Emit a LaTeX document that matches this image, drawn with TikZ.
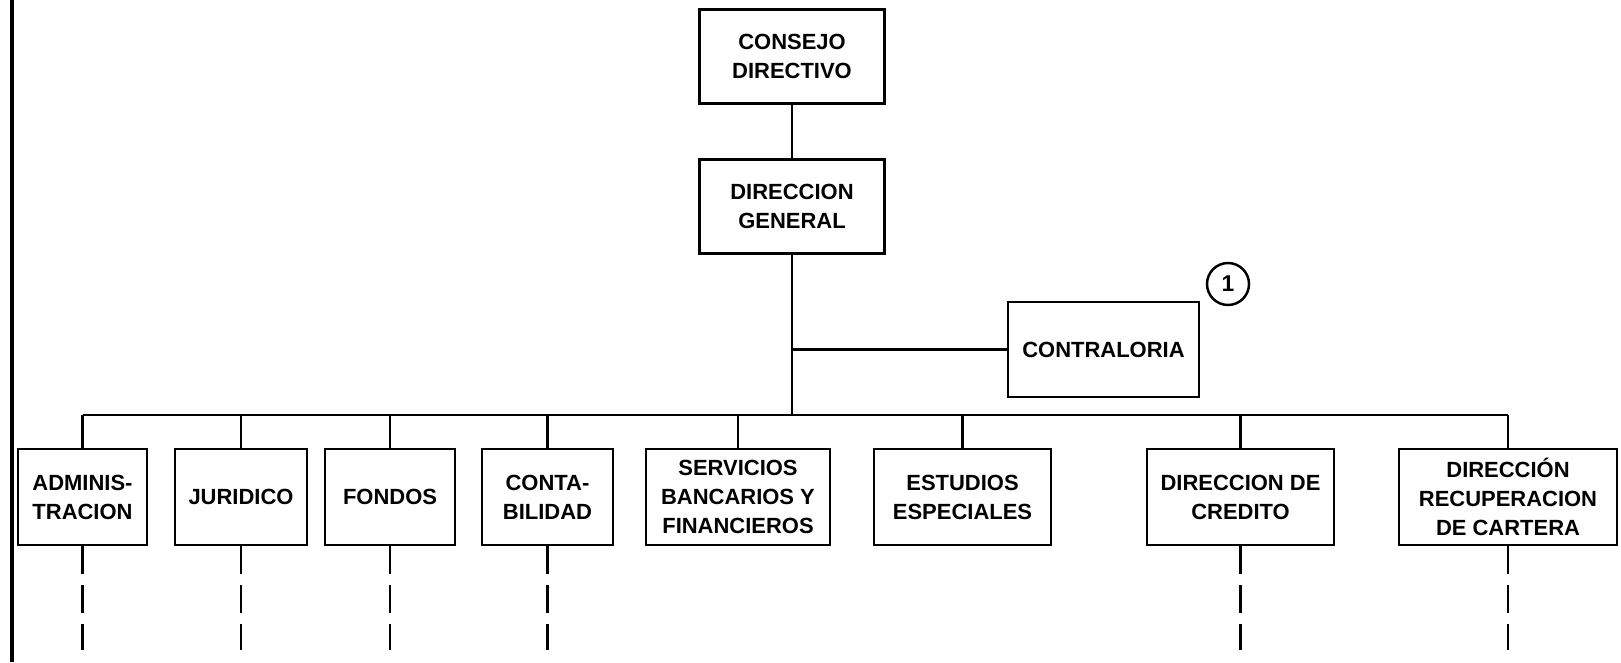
\documentclass[tikz,border=0pt]{standalone}
\usepackage{fontspec}
\setmainfont{Liberation Sans}
\tikzstyle{orgbox} = [rectangle,
minimum height=1.92cm,
inner sep=2pt,
align=center,
line width=1.6pt,
font=\fontsize{12.5}{16.5}\selectfont\bfseries,
draw=black]
\tikzstyle{orgline} = [line width=1.5pt]
\tikzstyle{dashline} = [line width=1.6pt, dash pattern=on 0.56cm off 0.22cm]

\begin{document}
\begin{tikzpicture}[node distance=3cm]
		\useasboundingbox (0,0) rectangle (32.42,-13.24);
		\draw [line width=2.2pt] (0.24,0) -- (0.24,-13.24);

		\node (consejo) [orgbox, minimum width=3.7cm, minimum height=1.88cm] at (15.84,-1.13) {CONSEJO\\DIRECTIVO};
		\node (general) [orgbox, minimum width=3.7cm, minimum height=1.88cm, below of=consejo] {DIRECCION\\GENERAL};
		\node (contra) [orgbox, minimum width=3.82cm, minimum height=1.9cm] at (22.07,-6.99) {CONTRALORIA};
		\node (nota) [circle, draw=black, line width=1.4pt, minimum size=0.84cm, inner sep=0pt, font=\fontsize{13}{13}\selectfont\bfseries] at (24.56,-5.68) {1};

		\node (admin) [orgbox, minimum width=2.58cm] at (1.65,-9.94) {ADMINIS-\\TRACION};
		\node (juridico) [orgbox, minimum width=2.64cm, right of=admin, xshift=0.17cm] {JURIDICO};
		\node (fondos) [orgbox, minimum width=2.6cm, right of=juridico, xshift=-0.02cm] {FONDOS};
		\node (conta) [orgbox, minimum width=2.62cm, right of=fondos, xshift=0.15cm] {CONTA-\\BILIDAD};
		\node (servicios) [orgbox, minimum width=3.68cm, right of=conta, xshift=0.81cm] {SERVICIOS\\BANCARIOS Y\\FINANCIEROS};
		\node (estudios) [orgbox, minimum width=3.54cm, right of=servicios, xshift=1.49cm] {ESTUDIOS\\ESPECIALES};
		\node (credito) [orgbox, minimum width=3.74cm, right of=estudios, xshift=2.56cm] {DIRECCION DE\\CREDITO};
		\node (cartera) [orgbox, minimum width=4.36cm, right of=credito, xshift=2.35cm] {DIRECCIÓN\\RECUPERACION\\DE CARTERA};

		\coordinate (bus) at (0,-8.30);
		\coordinate (fondo) at (0,-13.0);

		\draw [orgline](consejo) -- (general);
		\draw [orgline](general.south) -- (general.south |- bus);
		\draw [orgline, line width=1.2pt](general.south |- contra.west) -- (contra.west);

		% barra de las areas
		\draw [orgline](admin.north |- bus) -- (cartera.north |- bus);
		\draw [orgline](admin.north |- bus) -- (admin.north);
		\draw [orgline](juridico.north |- bus) -- (juridico.north);
		\draw [orgline](fondos.north |- bus) -- (fondos.north);
		\draw [orgline](conta.north |- bus) -- (conta.north);
		\draw [orgline](servicios.north |- bus) -- (servicios.north);
		\draw [orgline](estudios.north |- bus) -- (estudios.north);
		\draw [orgline](credito.north |- bus) -- (credito.north);
		\draw [orgline](cartera.north |- bus) -- (cartera.north);

		% lineas punteadas
		\draw [dashline](admin.south) -- (admin.south |- fondo);
		\draw [dashline](juridico.south) -- (juridico.south |- fondo);
		\draw [dashline](fondos.south) -- (fondos.south |- fondo);
		\draw [dashline](conta.south) -- (conta.south |- fondo);
		\draw [dashline](credito.south) -- (credito.south |- fondo);
		\draw [dashline](cartera.south) -- (cartera.south |- fondo);
	\end{tikzpicture}
\end{document}
